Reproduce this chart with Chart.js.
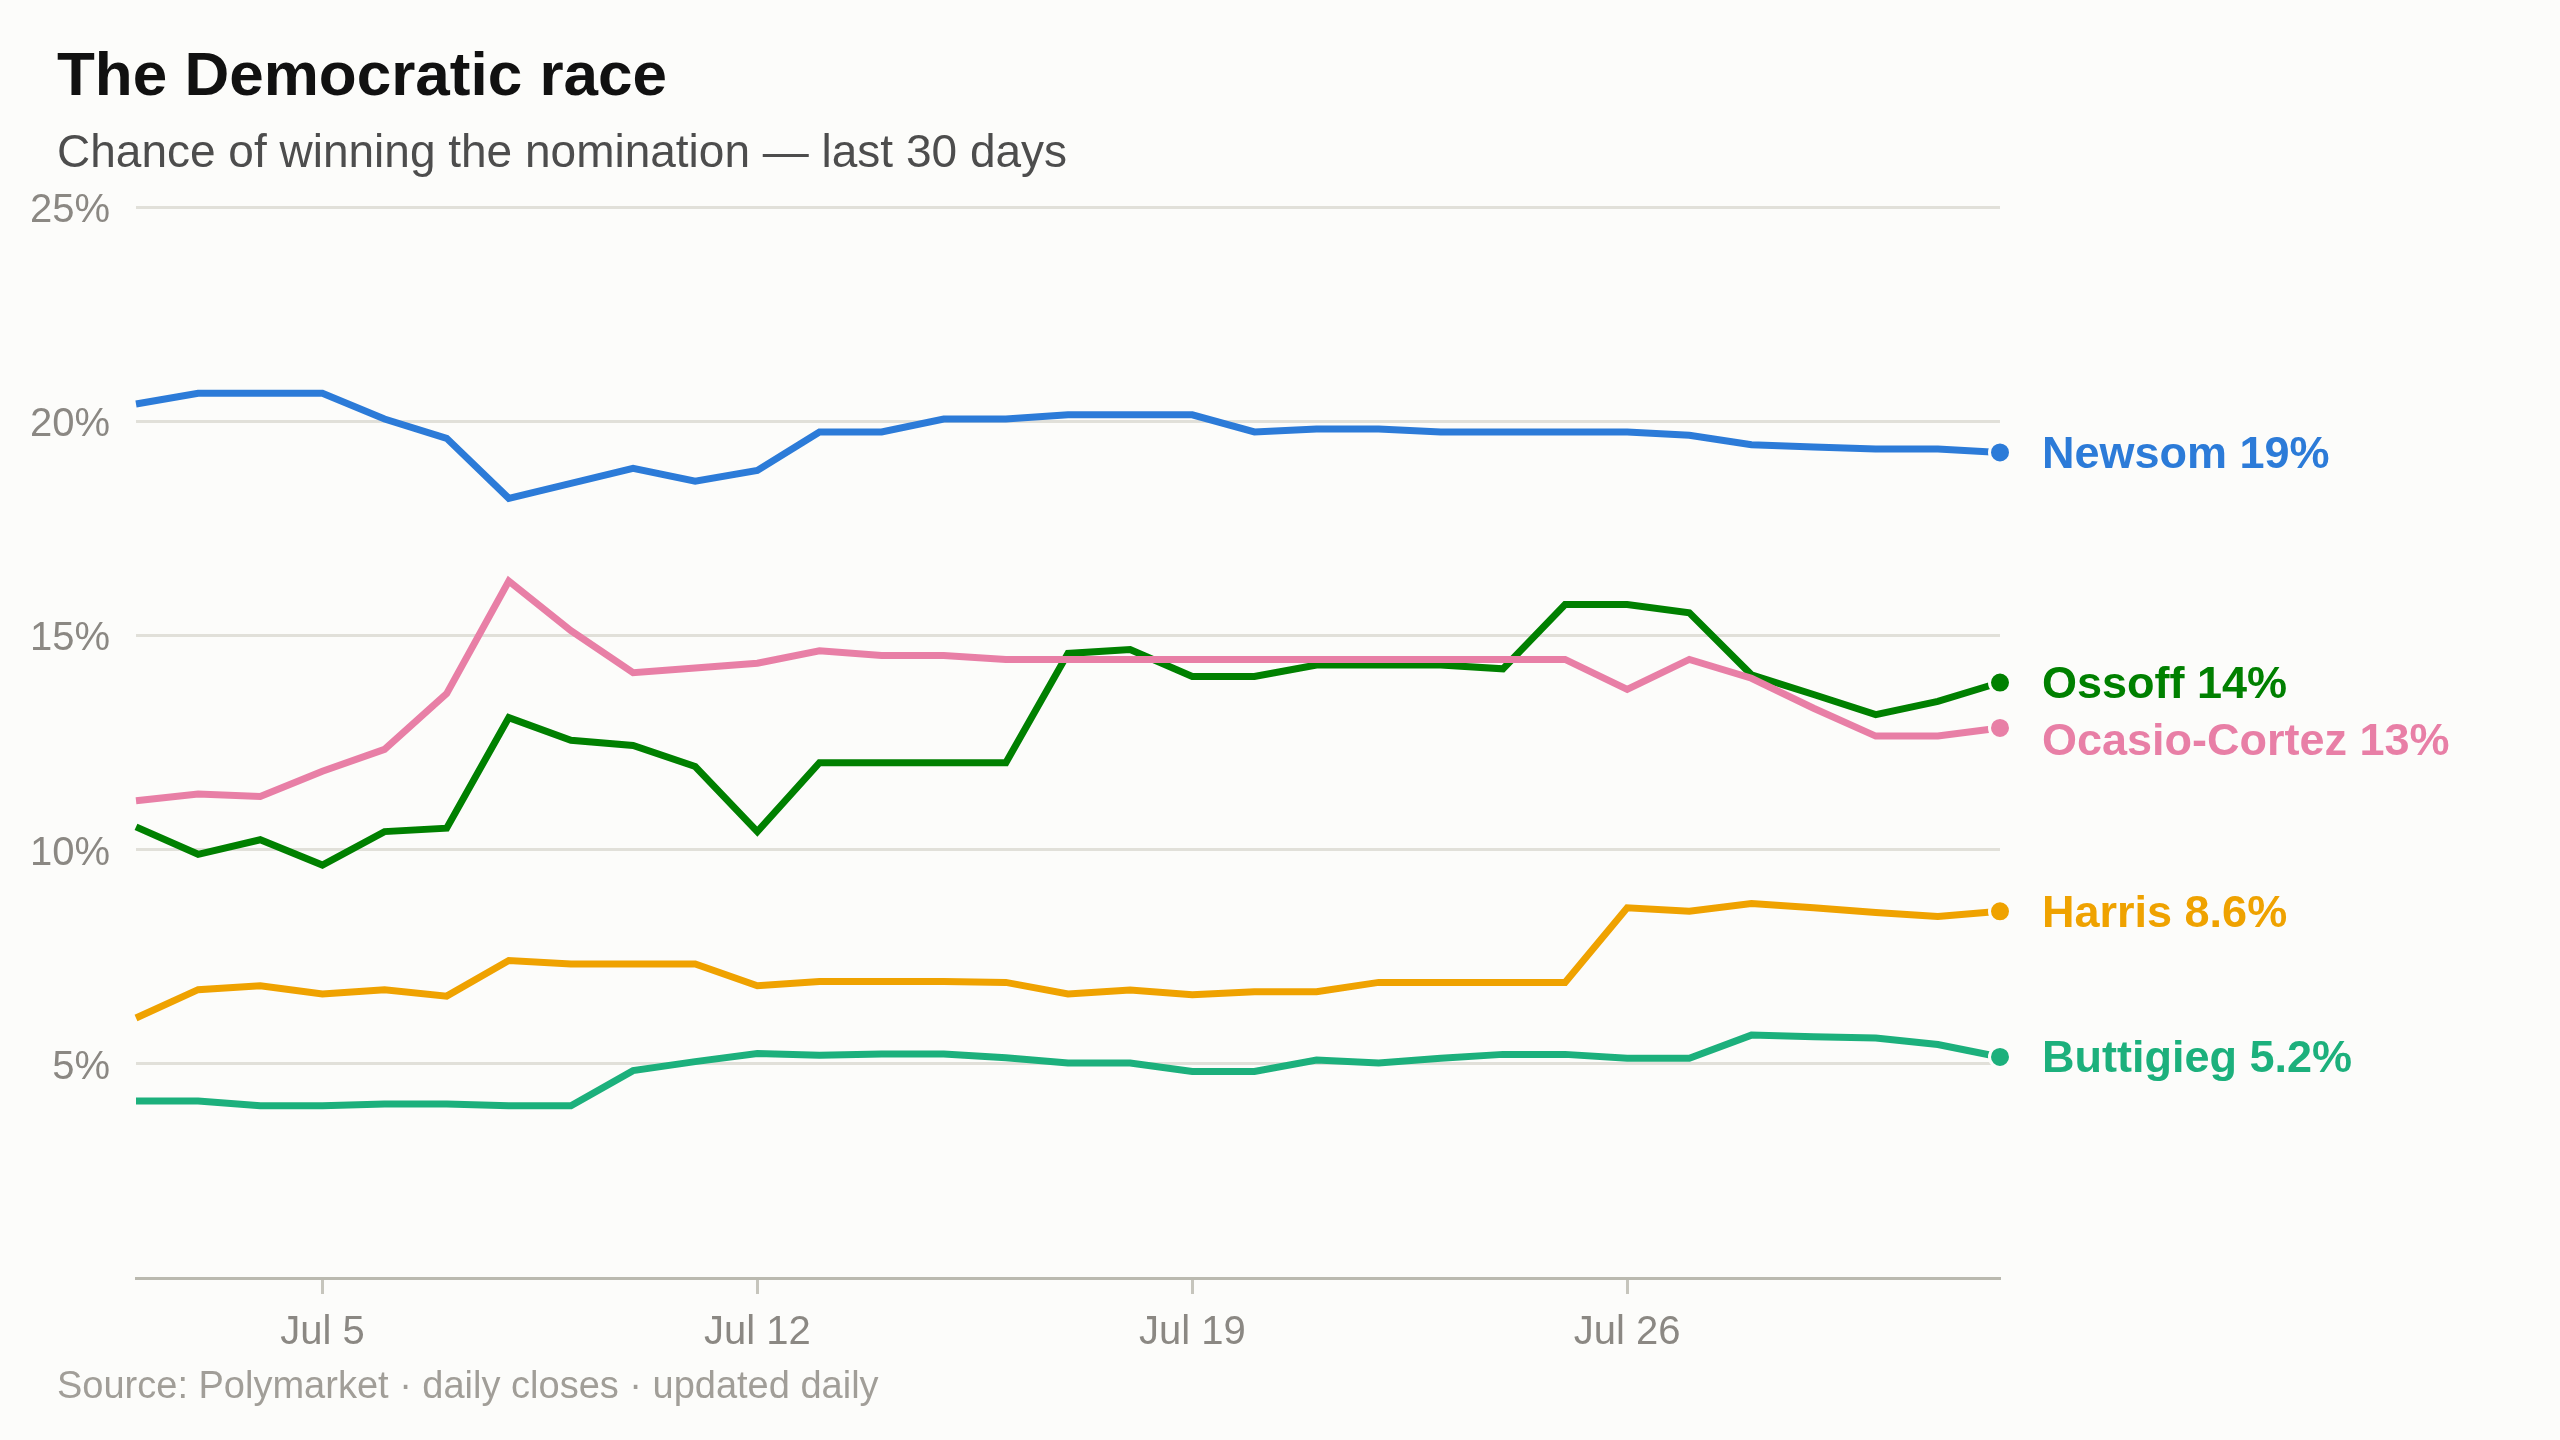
<!DOCTYPE html>
<html>
<head>
<meta charset="utf-8">
<title>The Democratic race</title>
<script src="https://cdn.jsdelivr.net/npm/chart.js@4.4.1/dist/chart.umd.min.js"></script>
<style>
  html, body { margin: 0; padding: 0; background: #fcfcfa; }
  #wrap { position: relative; width: 2560px; height: 1440px; overflow: hidden;
          font-family: "Liberation Sans", Arial, sans-serif; }
  #chart { position: absolute; left: 0; top: 0; }
  .title { position: absolute; left: 57px; top: 43px; font-size: 62px; line-height: 62px;
           font-weight: bold; color: #111; white-space: nowrap; }
  .subtitle { position: absolute; left: 57px; top: 128px; font-size: 46px; line-height: 46px;
              color: #4d4d4d; white-space: nowrap; }
  .source { position: absolute; left: 57px; top: 1366px; font-size: 38px; line-height: 38px;
            color: #a19e98; white-space: nowrap; }
</style>
</head>
<body>
<div id="wrap">
  <canvas id="chart" width="2560" height="1440"></canvas>
  <div class="title">The Democratic race</div>
  <div class="subtitle">Chance of winning the nomination — last 30 days</div>
  <div class="source">Source: Polymarket · daily closes · updated daily</div>
</div>
<script>
// daily closes, Jul 2 - Aug 1 (percent)
var days = ['Jul 2', 'Jul 3', 'Jul 4', 'Jul 5', 'Jul 6', 'Jul 7', 'Jul 8', 'Jul 9', 'Jul 10',
  'Jul 11', 'Jul 12', 'Jul 13', 'Jul 14', 'Jul 15', 'Jul 16', 'Jul 17', 'Jul 18', 'Jul 19',
  'Jul 20', 'Jul 21', 'Jul 22', 'Jul 23', 'Jul 24', 'Jul 25', 'Jul 26', 'Jul 27', 'Jul 28',
  'Jul 29', 'Jul 30', 'Jul 31', 'Aug 1'];
var tickDays = ['Jul 5', 'Jul 12', 'Jul 19', 'Jul 26'];

var newsom = [20.4, 20.65, 20.65, 20.65, 20.05, 19.6, 18.2, 18.55, 18.9, 18.6, 18.85,
  19.75, 19.75, 20.05, 20.05, 20.15, 20.15, 20.15, 19.75, 19.82, 19.82, 19.75, 19.75,
  19.75, 19.75, 19.67, 19.45, 19.4, 19.35, 19.35, 19.27];
var ocasio = [11.14, 11.3, 11.24, 11.83, 12.34, 13.64, 16.27, 15.11, 14.13, 14.24, 14.35,
  14.64, 14.53, 14.53, 14.44, 14.44, 14.44, 14.44, 14.44, 14.44, 14.44, 14.44, 14.44,
  14.44, 13.74, 14.44, 14.0, 13.3, 12.65, 12.65, 12.84];
var ossoff = [10.53, 9.89, 10.23, 9.64, 10.42, 10.5, 13.08, 12.55, 12.43, 11.94, 10.42,
  12.03, 12.03, 12.03, 12.03, 14.58, 14.67, 14.04, 14.04, 14.31, 14.31, 14.31, 14.22,
  15.72, 15.72, 15.53, 14.08, 13.62, 13.15, 13.46, 13.9];
var harris = [6.07, 6.73, 6.82, 6.63, 6.73, 6.58, 7.41, 7.33, 7.33, 7.33, 6.82,
  6.92, 6.92, 6.92, 6.9, 6.63, 6.72, 6.61, 6.68, 6.68, 6.9, 6.9, 6.9,
  6.9, 8.64, 8.56, 8.74, 8.64, 8.53, 8.44, 8.56];
var buttigieg = [4.13, 4.13, 4.02, 4.02, 4.06, 4.06, 4.02, 4.02, 4.84, 5.05, 5.24,
  5.2, 5.23, 5.23, 5.14, 5.02, 5.02, 4.82, 4.82, 5.09, 5.02, 5.13, 5.22,
  5.22, 5.13, 5.13, 5.67, 5.63, 5.6, 5.45, 5.16];

var FONT = '"Liberation Sans", Arial, sans-serif';
var BG = '#fcfcfa';

function fmt(v) {
  return v >= 10 ? Math.round(v) + '%' : v.toFixed(1) + '%';
}

function series(name, data, color) {
  return {
    label: name,
    data: data,
    borderColor: color,
    backgroundColor: color,
    borderWidth: 7,
    tension: 0,
    fill: false,
    clip: false,
    pointRadius: function (c) { return c.dataIndex === data.length - 1 ? 10.5 : 0; },
    pointBackgroundColor: color,
    pointBorderColor: BG,
    pointBorderWidth: 3
  };
}

// names + last value at the right end of each line
var endLabels = {
  id: 'endLabels',
  afterDatasetsDraw: function (chart) {
    var ctx = chart.ctx;
    var items = chart.data.datasets.map(function (ds, i) {
      var last = ds.data.length - 1;
      var pt = chart.getDatasetMeta(i).data[last];
      return { x: pt.x, y: pt.y, ly: pt.y + 3, text: ds.label + ' ' + fmt(ds.data[last]), color: ds.borderColor };
    }).sort(function (a, b) { return a.y - b.y; });
    for (var i = 1; i < items.length; i++) {
      if (items[i].ly - items[i - 1].ly < 57) items[i].ly = items[i - 1].ly + 57;
    }
    ctx.save();
    ctx.font = 'bold 45px ' + FONT;
    ctx.textBaseline = 'middle';
    ctx.textAlign = 'left';
    items.forEach(function (it) {
      ctx.fillStyle = it.color;
      ctx.fillText(it.text, it.x + 42, it.ly);
    });
    ctx.restore();
  }
};

var ctx = document.getElementById('chart');
var myChart = new Chart(ctx, {
  type: 'line',
  data: {
    labels: days,
    datasets: [
      series('Newsom', newsom, '#2c7bd8'),
      series('Ocasio-Cortez', ocasio, '#e87fa6'),
      series('Ossoff', ossoff, '#008000'),
      series('Harris', harris, '#efa200'),
      series('Buttigieg', buttigieg, '#1cb07c')
    ]
  },
  options: {
    responsive: false,
    animation: false,
    devicePixelRatio: 1,
    events: [],
    layout: { padding: { top: 207, right: 560, bottom: 0, left: 0 } },
    plugins: {
      legend: { display: false },
      tooltip: { enabled: false },
      title: { display: false }
    },
    scales: {
      x: {
        offset: false,
        border: { display: true, color: '#bab9af', width: 3 },
        grid: { drawOnChartArea: false, drawTicks: true, tickLength: 16, tickColor: '#c6c5bc', tickWidth: 3 },
        ticks: {
          autoSkip: false,
          maxRotation: 0,
          padding: 15,
          color: '#8b8883',
          font: { family: FONT, size: 40 },
          callback: function (val) {
            var l = this.getLabelForValue(val);
            return tickDays.indexOf(l) >= 0 ? l : null;
          }
        },
        afterFit: function (s) { s.height = 162; }
      },
      y: {
        min: 0,
        max: 25,
        border: { display: false },
        grid: { drawTicks: false, color: '#e1e0d9', lineWidth: 3 },
        ticks: {
          stepSize: 5,
          padding: 26,
          labelOffset: 4,
          color: '#8b8883',
          font: { family: FONT, size: 40 },
          callback: function (v) { return v === 0 ? null : v + '%'; }
        },
        afterFit: function (s) { s.width = 136; }
      }
    }
  },
  plugins: [endLabels]
});
</script>
</body>
</html>
